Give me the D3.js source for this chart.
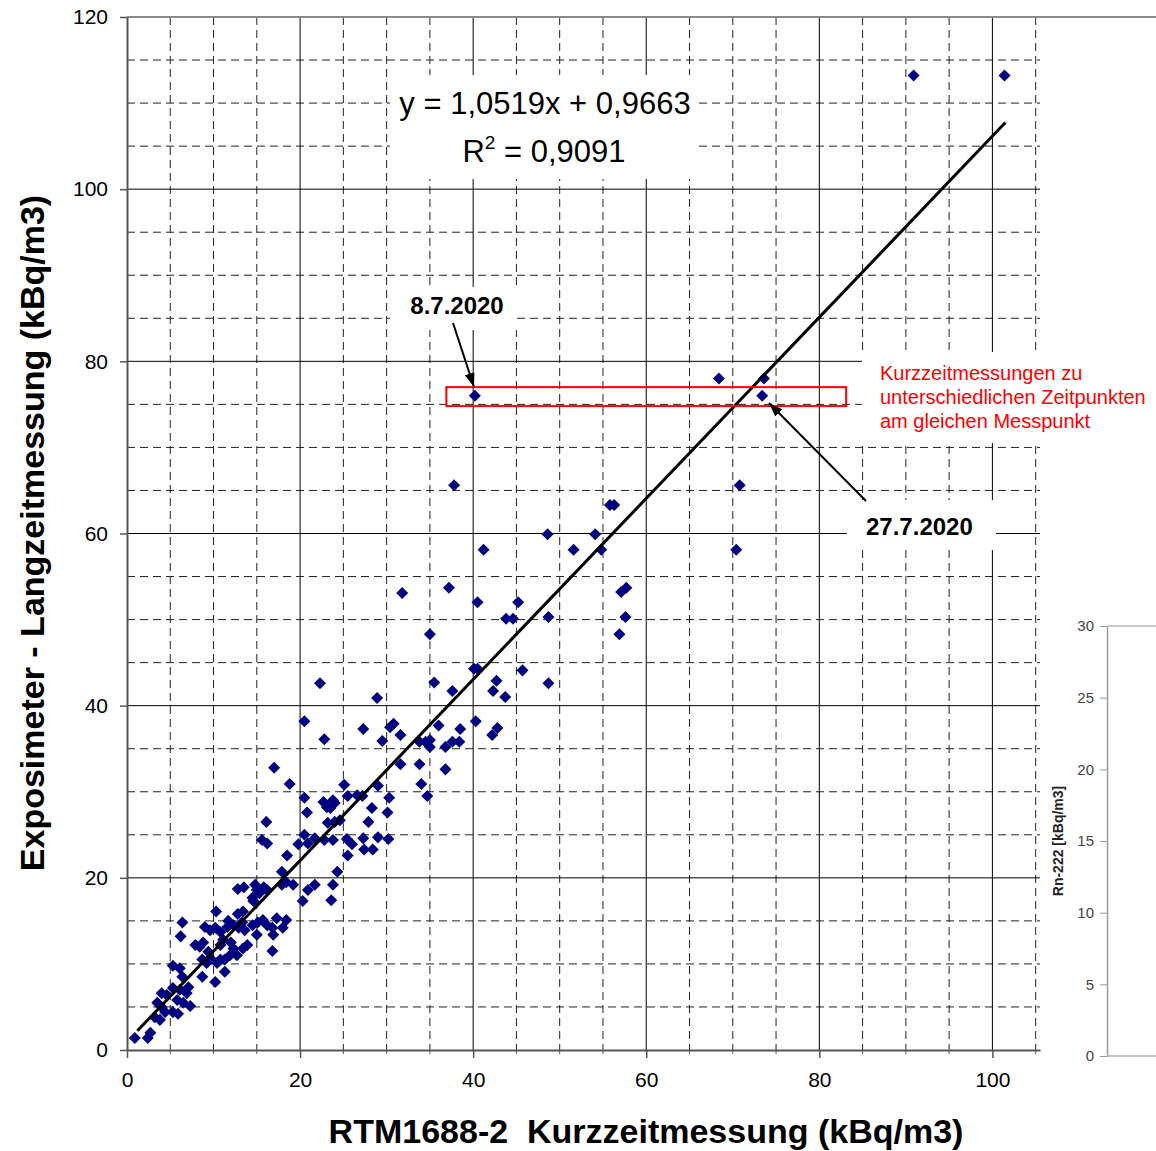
<!DOCTYPE html>
<html>
<head>
<meta charset="utf-8">
<script src="https://cdn.jsdelivr.net/npm/d3@7"></script>
<style>
  body { margin: 0; background: #fff; }
  text { font-family: Arial, "Liberation Sans", sans-serif; }
</style>
</head>
<body>
<script>
// short-term RTM1688-2 readings (x) and exposimeter long-term readings (y), kBq/m3
const shortTerm = [
  90.9, 101.4, 40.2, 68.4, 73.6, 73.4, 37.8, 70.8, 70.4, 48.6,
  55.8, 56.3, 54.1, 41.2, 51.6, 54.8, 31.8, 37.2, 40.5, 45.2,
  57.1, 57.7, 43.8, 44.6, 48.7, 57.6, 35.0, 56.9, 40.1, 40.5,
  45.7, 35.5, 48.7, 37.6, 42.7, 42.3, 43.7, 22.3, 28.9,
  40.3, 30.4, 30.8, 31.6, 29.5, 36.0, 38.5, 42.2, 42.8, 33.8,
  34.5, 35.0, 35.0, 36.8, 37.6, 38.4, 31.6, 33.8, 36.8,
  20.5, 22.8, 27.3, 17.0, 18.8, 34.0, 34.7, 25.1, 29.0, 25.5,
  26.6, 27.2, 20.5, 30.3, 22.7, 23.1, 23.8, 24.0, 23.5, 20.8,
  28.3, 30.1, 16.1, 23.2, 24.0, 24.6, 27.9, 15.6, 16.2, 20.5,
  19.8, 20.9, 21.7, 22.8, 23.8, 25.4, 26.0, 27.3, 27.4, 28.4,
  29.0, 30.2, 18.5, 25.5, 17.9, 24.3,
  12.8, 13.5, 14.8, 15.0, 15.8, 14.5, 14.6, 15.3, 16.2, 17.9,
  18.4, 19.2, 20.3, 20.9, 21.7, 23.6, 23.8, 10.3, 12.8, 13.4,
  6.4, 6.2, 9.0, 9.6, 10.2, 10.8, 11.7, 11.6, 12.3, 12.9,
  13.3, 13.6, 14.5, 15.1, 15.7, 16.2, 16.8, 16.9, 17.3, 18.4,
  18.0, 15.0, 7.9, 8.4, 8.8, 9.4, 10.8, 11.1, 12.0, 12.3,
  12.7, 13.4, 13.9, 16.8, 8.7, 9.2, 9.6, 10.4, 10.8, 11.3,
  11.9, 11.3, 5.3, 6.1, 6.4, 8.7, 10.2, 4.0, 4.6, 3.5,
  4.0, 5.3, 6.1, 6.9, 7.1, 5.8, 6.5, 7.3, 5.3, 5.9,
  3.2, 0.9, 2.4, 2.7, 4.4, 3.8
];
const longTerm = [
  113.2, 113.2, 76.0, 78.0, 78.0, 76.0, 65.6, 65.6, 58.1, 59.9,
  63.3, 63.3, 59.9, 58.1, 58.1, 58.1, 53.1, 53.7, 52.0, 52.0,
  53.2, 53.7, 50.1, 50.1, 50.3, 50.3, 48.3, 48.3, 44.3, 44.3,
  44.1, 42.7, 42.6, 41.7, 42.9, 41.7, 41.0, 42.6, 40.9,
  38.2, 37.5, 37.9, 36.6, 35.9, 37.7, 37.3, 36.6, 37.4, 35.8,
  35.8, 36.0, 35.2, 35.2, 35.8, 35.8, 33.2, 33.2, 32.6,
  38.2, 36.1, 37.3, 32.8, 30.9, 30.9, 29.5, 30.8, 30.7, 29.5,
  29.6, 29.5, 29.3, 29.3, 28.8, 28.2, 29.0, 28.7, 28.1, 27.6,
  28.1, 27.6, 26.5, 26.4, 26.5, 26.7, 26.5, 24.4, 24.0, 25.0,
  23.9, 24.0, 24.6, 24.4, 24.4, 24.5, 23.9, 24.6, 23.3, 23.3,
  24.7, 24.5, 22.6, 22.6, 20.7, 20.7,
  18.7, 18.9, 19.2, 18.6, 18.9, 17.7, 17.3, 18.2, 18.6, 19.2,
  19.5, 19.2, 17.3, 18.6, 19.2, 17.4, 19.2, 16.1, 15.8, 16.1,
  14.8, 13.2, 14.3, 13.9, 14.2, 13.7, 15.0, 14.3, 14.5, 14.2,
  14.8, 13.9, 14.5, 14.8, 15.1, 14.5, 14.2, 13.4, 15.3, 15.1,
  14.2, 13.4, 12.2, 12.0, 12.5, 11.4, 12.2, 12.8, 12.5, 11.8,
  11.0, 11.8, 12.2, 11.5, 10.5, 10.1, 10.7, 10.1, 10.5, 10.5,
  11.0, 9.1, 9.8, 9.5, 8.5, 8.5, 7.9, 6.6, 6.4, 5.5,
  5.0, 7.2, 7.0, 6.6, 7.3, 5.8, 5.5, 5.1, 4.4, 4.2,
  3.8, 1.4, 1.4, 2.0, 4.4, 3.5
];

const xTicks = [0, 20, 40, 60, 80, 100];
const yTicks = [0, 20, 40, 60, 80, 100, 120];
const insetTicks = [0, 5, 10, 15, 20, 25, 30];

const trend = { slope: 1.0519, intercept: 0.9663, from: 1.2, to: 101.5 };
const equationText = 'y = 1,0519x + 0,9663';
const rSquared = '0,9091';

// red box marks the repeated short-term readings at the same spot
const highlight = { x0: 36.9, x1: 83.1, y0: 74.8, y1: 77.0 };
const noteLines = ['Kurzzeitmessungen zu', 'unterschiedlichen Zeitpunkten', 'am gleichen Messpunkt'];

const points = shortTerm.map((v, i) => ({ x: v, y: longTerm[i] }));

const W = 1156, H = 1151;
const svg = d3.select('body').append('svg').attr('width', W).attr('height', H);

const x = d3.scaleLinear().domain([0, 105.5]).range([127, 1040]);
const y = d3.scaleLinear().domain([0, 120]).range([1050, 17]);

// grid: solid every 20, dashed every 5
const grid = svg.append('g');
const xMinor = d3.range(5, 106, 5).filter(d => d % 20 !== 0);
const yMinor = d3.range(5, 116, 5).filter(d => d % 20 !== 0);

grid.selectAll('.vmin').data(xMinor).join('line')
  .attr('x1', d => x(d)).attr('x2', d => x(d)).attr('y1', y(120)).attr('y2', y(0))
  .attr('stroke', '#222').attr('stroke-dasharray', '8,5');
grid.selectAll('.hmin').data(yMinor).join('line')
  .attr('y1', d => y(d)).attr('y2', d => y(d)).attr('x1', x(0)).attr('x2', x(105.5))
  .attr('stroke', '#222').attr('stroke-dasharray', '8,5');
grid.selectAll('.vmaj').data(xTicks.slice(1)).join('line')
  .attr('x1', d => x(d)).attr('x2', d => x(d)).attr('y1', y(120)).attr('y2', y(0))
  .attr('stroke', '#000');
grid.selectAll('.hmaj').data(yTicks.slice(1, -1)).join('line')
  .attr('y1', d => y(d)).attr('y2', d => y(d)).attr('x1', x(0)).attr('x2', x(105.5))
  .attr('stroke', '#000');

// white label backgrounds cut the grid like in the original
const boxes = [
  [390, 75, 307, 104],   // equation
  [390, 287, 127, 43],   // 8.7.2020
  [847, 500, 149, 50],   // 27.7.2020
  [862, 352, 294, 91]    // red note
];
svg.selectAll('.bg').data(boxes).join('rect')
  .attr('x', d => d[0]).attr('y', d => d[1]).attr('width', d => d[2]).attr('height', d => d[3])
  .attr('fill', '#fff');

// top border line
svg.append('line').attr('x1', x(0)).attr('x2', W).attr('y1', y(120)).attr('y2', y(120))
  .attr('stroke', '#8a8a8a').attr('stroke-width', 2);

// axes
const xAxis = svg.append('g').attr('transform', `translate(0,${y(0)})`)
  .call(d3.axisBottom(x).tickValues(xTicks).tickSize(8).tickSizeOuter(0).tickPadding(14));
xAxis.select('.domain').attr('stroke', '#555').attr('stroke-width', 2);
xAxis.selectAll('.tick line').attr('stroke', '#555').attr('stroke-width', 1.5);
xAxis.selectAll('text').attr('font-size', 21).attr('fill', '#000');

svg.append('g').attr('transform', `translate(0,${y(0)})`)
  .selectAll('line').data(d3.range(5, 106, 5).filter(d => d % 20 !== 0)).join('line')
  .attr('x1', d => x(d)).attr('x2', d => x(d)).attr('y1', 0).attr('y2', 4)
  .attr('stroke', '#555');

const yAxis = svg.append('g').attr('transform', `translate(${x(0)},0)`)
  .call(d3.axisLeft(y).tickValues(yTicks).tickSize(7).tickSizeOuter(0).tickPadding(12));
yAxis.select('.domain').attr('stroke', '#555').attr('stroke-width', 2);
yAxis.selectAll('.tick line').attr('stroke', '#555').attr('stroke-width', 1.5);
yAxis.selectAll('text').attr('font-size', 21).attr('fill', '#000');

// axis titles
svg.append('text').attr('x', 646).attr('y', 1143).attr('text-anchor', 'middle')
  .attr('font-size', 34).attr('font-weight', 'bold')
  .text('RTM1688-2  Kurzzeitmessung (kBq/m3)').style('white-space', 'pre');
svg.append('text').attr('transform', 'translate(44,533) rotate(-90)').attr('text-anchor', 'middle')
  .attr('font-size', 34).attr('font-weight', 'bold')
  .text('Exposimeter - Langzeitmessung (kBq/m3)');

// data points
const diamond = d3.symbol().type(d3.symbolDiamond2).size(92);
svg.append('g').selectAll('path').data(points).join('path')
  .attr('d', diamond)
  .attr('transform', d => `translate(${x(d.x)},${y(d.y)})`)
  .attr('fill', '#000080');

// linear trend line
svg.append('line')
  .attr('x1', x(trend.from)).attr('y1', y(trend.slope * trend.from + trend.intercept))
  .attr('x2', x(trend.to)).attr('y2', y(trend.slope * trend.to + trend.intercept))
  .attr('stroke', '#000').attr('stroke-width', 3);

// equation
svg.append('text').attr('x', 545).attr('y', 114).attr('text-anchor', 'middle')
  .attr('font-size', 31).text(equationText);
const r2 = svg.append('text').attr('x', 544).attr('y', 162).attr('text-anchor', 'middle')
  .attr('font-size', 31);
r2.append('tspan').text('R');
r2.append('tspan').attr('font-size', 19).attr('dy', -13).text('2');
r2.append('tspan').attr('dy', 13).text(' = ' + rSquared);

// red highlight box + note
svg.append('rect')
  .attr('x', x(highlight.x0)).attr('y', y(highlight.y1))
  .attr('width', x(highlight.x1) - x(highlight.x0)).attr('height', y(highlight.y0) - y(highlight.y1))
  .attr('fill', 'none').attr('stroke', '#ff0000').attr('stroke-width', 2);
svg.append('g').selectAll('text').data(noteLines).join('text')
  .attr('x', 880).attr('y', (d, i) => 380 + i * 24)
  .attr('font-size', 20).attr('fill', '#ff0000').text(d => d);

// arrows to the dated points
svg.append('defs').append('marker')
  .attr('id', 'arrow').attr('viewBox', '0 0 14 10').attr('refX', 14).attr('refY', 5)
  .attr('markerWidth', 14).attr('markerHeight', 10).attr('markerUnits', 'userSpaceOnUse')
  .attr('orient', 'auto')
  .append('path').attr('d', 'M0,0 L14,5 L0,10 Z').attr('fill', '#000');

svg.append('text').attr('x', 457).attr('y', 314).attr('text-anchor', 'middle')
  .attr('font-size', 24).attr('font-weight', 'bold').text('8.7.2020');
svg.append('line').attr('x1', 453).attr('y1', 323).attr('x2', 474).attr('y2', 387)
  .attr('stroke', '#000').attr('stroke-width', 2).attr('marker-end', 'url(#arrow)');

svg.append('text').attr('x', 866).attr('y', 535)
  .attr('font-size', 24).attr('font-weight', 'bold').text('27.7.2020');
svg.append('line').attr('x1', 866).attr('y1', 501).attr('x2', 769).attr('y2', 403)
  .attr('stroke', '#000').attr('stroke-width', 2).attr('marker-end', 'url(#arrow)');

// partial second chart at the right edge (Rn-222 axis)
const yIn = d3.scaleLinear().domain([0, 30]).range([1056, 626]);
const inset = svg.append('g').attr('transform', 'translate(1107,0)')
  .call(d3.axisLeft(yIn).tickValues(insetTicks).tickSize(7).tickSizeOuter(0).tickPadding(6));
inset.select('.domain').attr('stroke', '#9a9a9a').attr('stroke-width', 1.5);
inset.selectAll('.tick line').attr('stroke', '#9a9a9a');
inset.selectAll('text').attr('font-size', 15).attr('fill', '#444');
svg.append('line').attr('x1', 1107).attr('x2', W).attr('y1', yIn(30)).attr('y2', yIn(30))
  .attr('stroke', '#c8c8c8').attr('stroke-width', 2);
svg.append('line').attr('x1', 1107).attr('x2', W).attr('y1', yIn(0)).attr('y2', yIn(0))
  .attr('stroke', '#b0b0b0').attr('stroke-width', 1.5);
svg.append('text').attr('transform', 'translate(1063,841) rotate(-90)').attr('text-anchor', 'middle')
  .attr('font-size', 14).attr('font-weight', 'bold').attr('fill', '#222')
  .text('Rn-222 [kBq/m3]');
</script>
</body>
</html>
